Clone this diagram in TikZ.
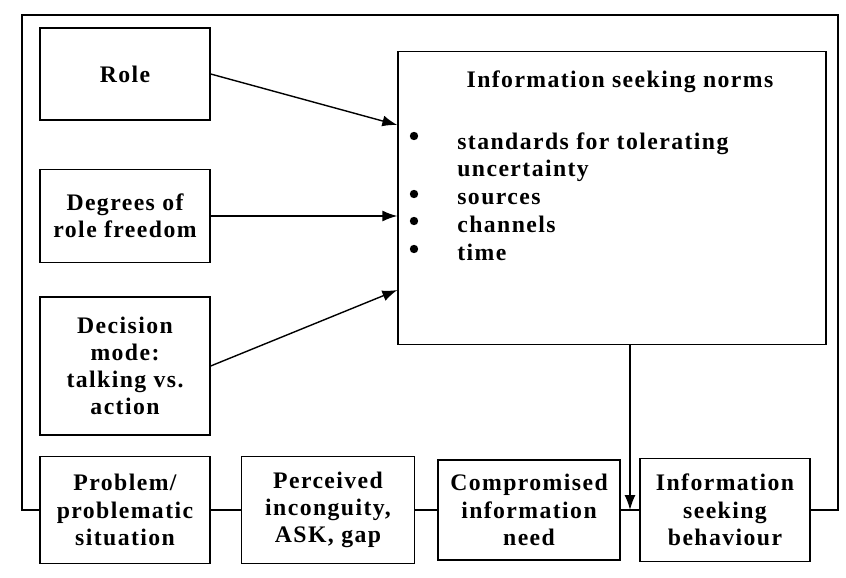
\documentclass[tikz,border=0pt]{standalone}
\usepackage{fontspec}
\setmainfont{Liberation Serif}[LetterSpace=6]
\usepackage{tikz}
\usetikzlibrary{arrows.meta,calc}
\tikzset{
  factor/.style={
    draw,
    line width=0.8pt,
    align=center,
    inner sep=0pt,
    minimum width=3.4cm,
    font=\bfseries\fontsize{13.5}{15.5}\selectfont
  },
  normsbox/.style={
    draw,
    line width=0.8pt,
    minimum width=8.56cm,
    minimum height=5.86cm
  },
  normstext/.style={
    inner sep=0pt,
    align=left,
    font=\bfseries\fontsize{13.5}{15.8}\selectfont
  },
  link/.style={
    line width=0.8pt
  },
  influence/.style={
    line width=0.8pt,
    -{Latex[length=3mm,width=2.2mm]}
  },
}

\begin{document}
\begin{tikzpicture}[x=0.02cm,y=-0.02cm]
  \useasboundingbox (0,0) rectangle (846,578);
  % left column of factors
  \node[factor, minimum height=1.84cm] (role) at (125,74) {Role};
  \node[factor, minimum height=1.86cm] (freedom) at (125,216) {Degrees of\\role freedom};
  \node[factor, minimum height=2.76cm] (decision) at (125,366) {Decision\\mode:\\talking vs.\\action};
  % the norms box
  \node[normsbox] (norms) at (612,198) {};
  \node[normstext, anchor=base] (title) at (620,87) {Information seeking norms};
  \node[normstext, anchor=north west] (items) at (457,132) {%
    standards for tolerating\\
    uncertainty\\
    sources\\
    channels\\
    time};
  \foreach \y in {136,194,221,249}
    \fill (414,\y) circle (4.2);
  % chain along the bottom
  \node[factor, minimum height=2.14cm] (problem) at (125,510) {Problem/\\problematic\\situation};
  \node[factor, minimum width=3.46cm, minimum height=2.14cm] (incongruity) at (328,510) {Perceived\\inconguity,\\ASK, gap};
  \node[factor, minimum width=3.64cm, minimum height=2cm] (need) at (529,510) {Compromised\\information\\need};
  \node[factor, minimum height=2.06cm] (behaviour) at (725,510) {Information\\seeking\\behaviour};
  \draw[link] (problem) -- (incongruity);
  \draw[link] (incongruity) -- (need);
  \draw[link] (need) -- (behaviour);
  % outer loop
  \coordinate (sw) at (22,510);
  \coordinate (nw) at (22,15);
  \coordinate (ne) at (838,15);
  \coordinate (se) at (838,510);
  \draw[link] (problem.west) -- (sw) -- (nw) -- (ne) -- (se) -- (behaviour.east);
  % influences on the norms
  \draw[influence] (role.east) -- ($(norms.west)+(0,-73)$);
  \draw[influence] (freedom.east) -- (freedom.east -| norms.west);
  \draw[influence] (decision.east) -- ($(norms.west)+(0,92)$);
  \coordinate (join) at (630,510);
  \draw[influence] (norms.south -| join) -- (join);
\end{tikzpicture}
\end{document}
